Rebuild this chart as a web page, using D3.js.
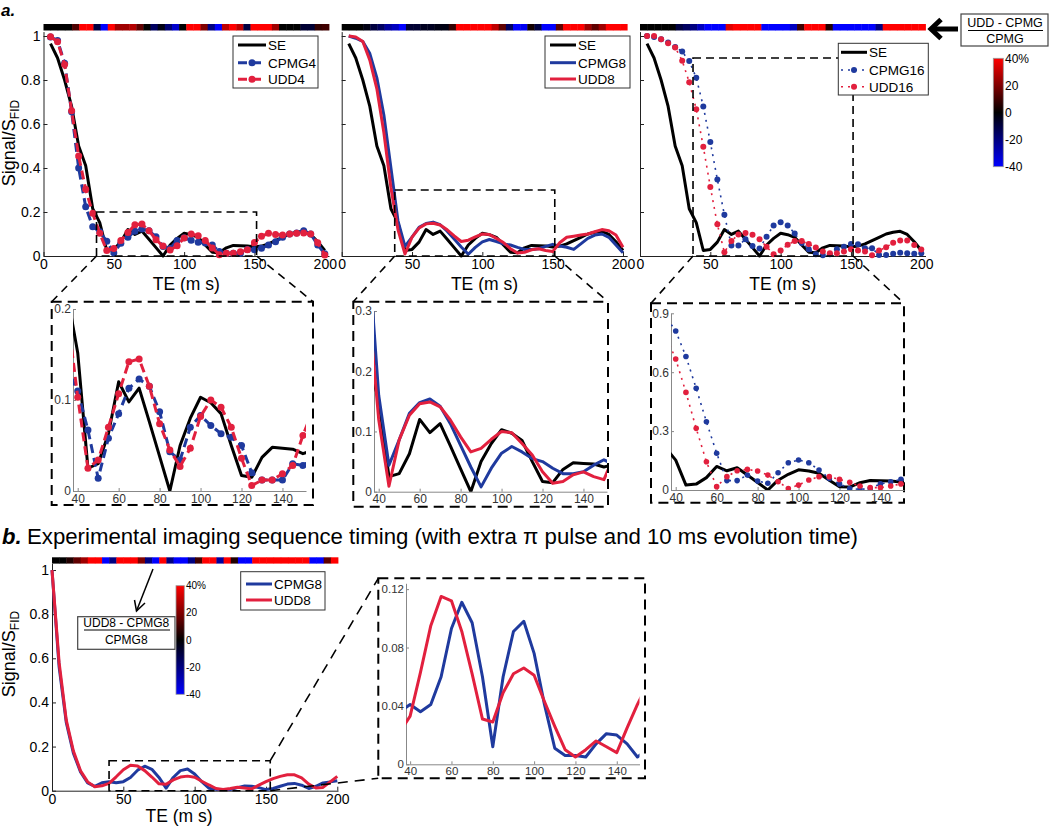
<!DOCTYPE html>
<html><head><meta charset="utf-8">
<script src="https://cdn.jsdelivr.net/npm/d3@7"></script>
<style>
body{margin:0;background:#fff;}
svg{display:block;font-family:"Liberation Sans",Arial,Helvetica,sans-serif;}
</style></head><body>
<svg id="c" width="1050" height="827"></svg>
<script>
// ---------------- DATA ----------------
const TE = [5,10,15,20,25,30,35,40,45,50,55,60,65,70,75,80,85,90,95,100,105,110,115,120,125,130,135,140,145,150,155,160,165,170,175,180,185,190,195,200];
const SE = [0.965,0.9,0.8,0.68,0.5,0.41,0.215,0.152,0.025,0.03,0.063,0.12,0.098,0.113,0.076,0.038,0.0,0.05,0.08,0.103,0.097,0.085,0.05,0.017,0.015,0.037,0.048,0.047,0.046,0.041,0.045,0.055,0.07,0.085,0.1,0.108,0.112,0.098,0.065,0.025];
const CPMG4 = [0.995,0.98,0.876,0.656,0.4,0.224,0.133,0.11,0.067,0.014,0.058,0.085,0.113,0.123,0.115,0.087,0.043,0.034,0.07,0.083,0.072,0.063,0.059,0.05,0.02,0.012,0.012,0.012,0.03,0.028,0.035,0.05,0.065,0.085,0.1,0.105,0.115,0.1,0.05,0.01];
const UDD4 = [0.997,0.974,0.87,0.66,0.455,0.303,0.194,0.103,0.025,0.034,0.07,0.107,0.142,0.145,0.115,0.074,0.045,0.027,0.047,0.082,0.1,0.092,0.07,0.036,0.006,0.012,0.012,0.019,0.028,0.061,0.09,0.103,0.098,0.095,0.1,0.103,0.105,0.1,0.06,0.005];
const CPMG8 = [1.0,0.99,0.975,0.92,0.81,0.64,0.40,0.16,0.044,0.086,0.13,0.148,0.154,0.142,0.113,0.077,0.041,0.008,0.039,0.064,0.075,0.066,0.055,0.05,0.039,0.03,0.03,0.033,0.044,0.053,0.045,0.04,0.03,0.055,0.08,0.095,0.1,0.085,0.05,0.015];
const UDD8 = [1.0,0.995,0.975,0.89,0.76,0.56,0.31,0.12,0.009,0.086,0.127,0.146,0.149,0.141,0.119,0.091,0.066,0.072,0.087,0.1,0.098,0.08,0.061,0.033,0.014,0.017,0.028,0.033,0.025,0.02,0.06,0.085,0.09,0.095,0.1,0.11,0.12,0.115,0.095,0.04];
const CPMG16 = [1.0,0.995,0.985,0.97,0.95,0.929,0.886,0.81,0.68,0.518,0.348,0.187,0.048,0.048,0.076,0.046,0.034,0.088,0.139,0.153,0.139,0.102,0.059,0.031,0.008,0.003,0.008,0.031,0.042,0.054,0.053,0.035,0.035,0.005,0.005,0.01,0.015,0.012,0.01,0.012];
const UDD16 = [1.0,1.0,0.985,0.967,0.948,0.888,0.79,0.667,0.497,0.314,0.144,0.017,0.068,0.098,0.105,0.097,0.076,0.042,0.008,0.025,0.051,0.068,0.068,0.054,0.039,0.02,0.012,0.012,0.02,0.031,0.025,0.02,0.003,0.025,0.04,0.06,0.07,0.07,0.05,0.03];

const TE_B = [0,5,10,15,20,25,30,35,40,45,50,55,60,65,70,75,80,85,90,95,100,105,110,115,120,125,130,135,140,145,150,155,160,165,170,175,180,185,190,195,200];
const CPMG8_B = [1.0,0.56,0.31,0.17,0.085,0.035,0.02,0.036,0.041,0.036,0.041,0.06,0.093,0.111,0.097,0.06,0.012,0.06,0.091,0.098,0.076,0.041,0.011,0.006,0.006,0.005,0.014,0.021,0.02,0.014,0.005,0.01,0.02,0.03,0.033,0.025,0.01,0.02,0.035,0.04,0.045];
const UDD8_B = [1.0,0.58,0.32,0.18,0.09,0.04,0.018,0.022,0.033,0.063,0.095,0.115,0.112,0.091,0.062,0.031,0.029,0.049,0.062,0.066,0.061,0.043,0.026,0.01,0.005,0.01,0.016,0.012,0.008,0.025,0.041,0.055,0.065,0.072,0.072,0.058,0.03,0.012,0.015,0.04,0.065];

// relative difference (UDD-CPMG)/CPMG in %, one cell per TE
const DIFF_4 = [0,0,0,0,12,40,40,-10,-40,40,25,25,28,15,0,-15,-3,-18,-32,0,40,40,20,-20,-40,30,40,30,-10,40,40,40,25,0,0,0,-8,-8,8,10];
const DIFF_8 = [0,0,0,-3,-10,-15,-25,-30,-40,-8,-8,-5,-5,-3,-3,8,40,40,40,40,40,30,15,-15,-40,-38,3,-10,-40,-40,15,40,40,40,25,15,25,40,40,40];
const DIFF_16 = [0,0,0,0,0,-10,-15,-20,-30,-40,-40,-40,35,40,40,40,40,-40,-40,-40,-40,-30,10,40,40,40,5,-40,-40,-40,-40,-40,-40,-20,40,40,40,40,40,40];
const DIFF_B = [0,0,5,15,25,40,40,-40,-20,40,40,40,20,-20,-40,40,-20,-40,-40,-20,10,40,40,-25,40,5,-40,-40,40,40,40,40,40,40,40,40,-40,-40,15,40];

const X_TICKS = [0,50,100,150,200];
const Y_TICKS = [0,0.2,0.4,0.6,0.8,1];
const INSET_X_TICKS = [40,60,80,100,120,140];
const INSET_Y_TICKS_1 = [0,0.1,0.2];
const INSET_Y_TICKS_2 = [0,0.1,0.2,0.3];
const INSET_Y_TICKS_3 = [0,0.3,0.6,0.9];
const INSET_Y_TICKS_B = [0,0.04,0.08,0.12];
const CBAR_TICKS = [40,20,0,-20,-40];
const CBAR_LABELS = ["40%","20","0","-20","-40"];
const LEGEND_1 = ["SE","CPMG4","UDD4"];
const LEGEND_2 = ["SE","CPMG8","UDD8"];
const LEGEND_3 = ["SE","CPMG16","UDD16"];
const LEGEND_B = ["CPMG8","UDD8"];

// ---------------- STYLE ----------------
const BLUE = "#1f3a9e", RED = "#e2203e", BLACK = "#000";
const STYLES = {
  solid: {w:3, dash:null, r:0},
  dash:  {w:3, dash:"9,5", r:3.5},
  dot:   {w:1.6, dash:"2,5", r:3}
};
const diffColor = d3.scaleLinear().domain([-40,0,40]).range(["#0000ff","#000000","#ff0000"]).clamp(true);

const svg = d3.select("#c");
const defs = svg.append("defs");

function styleAxis(g, fs, col, lineCol) {
  g.selectAll("text").attr("font-size", fs).attr("fill", col).attr("font-family", null);
  g.selectAll(".domain").attr("stroke", lineCol).attr("stroke-width", 1);
  g.selectAll(".tick line").attr("stroke", lineCol);
  g.attr("font-family", null);
}

function drawSeries(g, x, y, te, vals, color, styleName, r) {
  const st = STYLES[styleName];
  const pts = te.map((t,i)=>({t, v: vals[i]}));
  const line = d3.line().x(d=>x(d.t)).y(d=>y(d.v));
  g.append("path").datum(pts).attr("d", line).attr("fill","none")
    .attr("stroke", color).attr("stroke-width", st.w)
    .attr("stroke-dasharray", st.dash).attr("stroke-linejoin","round");
  const rr = r !== undefined ? r : st.r;
  if (rr) g.append("g").selectAll("circle").data(pts).join("circle")
    .attr("cx", d=>x(d.t)).attr("cy", d=>y(d.v)).attr("r", rr).attr("fill", color);
}

function drawStrip(x, diff, top, h) {
  const band = d3.scaleBand().domain(d3.range(diff.length)).range(x.range());
  svg.append("g").selectAll("rect").data(diff).join("rect")
    .attr("x",(d,i)=>band(i)).attr("y", top).attr("width", band.bandwidth()+0.4).attr("height", h)
    .attr("fill", d=>diffColor(d));
}

function drawLegend(box, rows, lx, names, colors, styles, fs) {
  const g = svg.append("g");
  g.append("rect").attr("x",box[0]).attr("y",box[1]).attr("width",box[2]-box[0]).attr("height",box[3]-box[1])
    .attr("fill","#fff").attr("stroke","#333").attr("stroke-width",1);
  names.forEach((n,i)=>{
    const st = STYLES[styles[i]];
    g.append("line").attr("x1",lx[0]).attr("x2",lx[1]).attr("y1",rows[i]).attr("y2",rows[i])
      .attr("stroke",colors[i]).attr("stroke-width",st.w).attr("stroke-dasharray",st.dash);
    if (st.r) g.append("circle").attr("cx",(lx[0]+lx[1])/2).attr("cy",rows[i]).attr("r",st.r).attr("fill",colors[i]);
    g.append("text").attr("x",lx[1]+2).attr("y",rows[i]).attr("dy","0.36em").attr("font-size",fs).attr("fill","#000").text(n);
  });
}

function yLabel(cx, cy) {
  const t = svg.append("text").attr("transform",`translate(${cx},${cy}) rotate(-90)`)
    .attr("text-anchor","middle").attr("font-size",18).attr("fill","#000");
  t.append("tspan").text("Signal/S");
  t.append("tspan").attr("font-size",12).attr("dy","0.35em").text("FID");
}
function xLabel(cx, by) {
  svg.append("text").attr("x",cx).attr("y",by).attr("text-anchor","middle").attr("font-size",17.5).text("TE (m s)");
}

// ---------------- TOP PANELS ----------------
const panels = [
  {L:43.5, diff:DIFF_4, cp:CPMG4, ud:UDD4, sty:"dash", legend:LEGEND_1, lbox:[233,36,318,88], lrows:[45,62.7,79.3], lx:[238,266],
   zy:0.2, ibox:[51.7,301.7,313,505], ixr:[73,306], iyr:[491,309], iyd:[0,0.2], iyt:INSET_Y_TICKS_1, ir:3.5, labels:true},
  {L:341.7, diff:DIFF_8, cp:CPMG8, ud:UDD8, sty:"solid", legend:LEGEND_2, lbox:[545,36,630,88], lrows:[45,62.7,79], lx:[550,576],
   zy:0.3, ibox:[353.3,301.7,608,506.7], ixr:[374,607], iyr:[491.7,311], iyd:[0,0.3], iyt:INSET_Y_TICKS_2, ir:0, labels:false},
  {L:640, diff:DIFF_16, cp:CPMG16, ud:UDD16, sty:"dot", legend:LEGEND_3, lbox:[838.3,43.3,928.3,95], lrows:[52.3,70,86.7], lx:[841,867],
   zy:0.9, ibox:[651,303.3,904,502.7], ixr:[671,904], iyr:[490,313.3], iyd:[0,0.9], iyt:INSET_Y_TICKS_3, ir:2.8, labels:false}
];
const ZOOM_X = [37.7, 151.5];

panels.forEach((p, pi)=>{
  const x = d3.scaleLinear().domain([0,203]).range([p.L, p.L+285.5]);
  const y = d3.scaleLinear().domain([0,1.02]).range([256, 31.6]);
  drawStrip(x, p.diff, 24, 6.5);

  const gx = svg.append("g").attr("transform","translate(0,256)")
    .call(d3.axisBottom(x).tickValues(X_TICKS).tickSizeInner(-4).tickSizeOuter(0).tickPadding(3).tickFormat(d=>String(d)));
  styleAxis(gx, 14, "#000", "#222");
  const gy = svg.append("g").attr("transform",`translate(${p.L},0)`)
    .call(d3.axisLeft(y).tickValues(Y_TICKS).tickSizeInner(-4).tickSizeOuter(0).tickPadding(3)
      .tickFormat(d=> p.labels ? String(d) : ""));
  styleAxis(gy, 14, "#000", "#222");

  const g = svg.append("g");
  drawSeries(g, x, y, TE, SE, BLACK, "solid");
  drawSeries(g, x, y, TE, p.cp, BLUE, p.sty);
  drawSeries(g, x, y, TE, p.ud, RED, p.sty);

  // zoom rectangle
  svg.append("rect").attr("x", x(ZOOM_X[0])).attr("y", y(p.zy))
    .attr("width", x(ZOOM_X[1])-x(ZOOM_X[0])).attr("height", y(0)-y(p.zy))
    .attr("fill","none").attr("stroke","#000").attr("stroke-width",1.6).attr("stroke-dasharray","8,5");

  drawLegend(p.lbox, p.lrows, p.lx, p.legend, [BLACK,BLUE,RED], ["solid",p.sty,p.sty], 13.5);
  xLabel((x.range()[0]+x.range()[1])/2, 290);

  // inset
  const b = p.ibox;
  [[x(ZOOM_X[0]), y(0), b[0], b[1]], [x(ZOOM_X[1]), y(0), b[2], b[1]]].forEach(c=>{
    svg.append("line").attr("x1",c[0]).attr("y1",c[1]).attr("x2",c[2]).attr("y2",c[3])
      .attr("stroke","#000").attr("stroke-width",1.6).attr("stroke-dasharray","8,6");
  });
  svg.append("rect").attr("x",b[0]).attr("y",b[1]).attr("width",b[2]-b[0]).attr("height",b[3]-b[1])
    .attr("fill","#fff").attr("stroke","#000").attr("stroke-width",2).attr("stroke-dasharray","10,6");
  const ix = d3.scaleLinear().domain(ZOOM_X).range(p.ixr);
  const iy = d3.scaleLinear().domain(p.iyd).range(p.iyr);
  const cid = "clip"+pi;
  defs.append("clipPath").attr("id",cid).append("rect")
    .attr("x",p.ixr[0]).attr("y",p.iyr[1]).attr("width",p.ixr[1]-p.ixr[0]).attr("height",p.iyr[0]-p.iyr[1]);
  const igx = svg.append("g").attr("transform",`translate(0,${p.iyr[0]})`)
    .call(d3.axisBottom(ix).tickValues(INSET_X_TICKS).tickSizeInner(-3).tickSizeOuter(0).tickPadding(3));
  styleAxis(igx, 12, "#333", "#888");
  const igy = svg.append("g").attr("transform",`translate(${p.ixr[0]},0)`)
    .call(d3.axisLeft(iy).tickValues(p.iyt).tickSizeInner(-3).tickSizeOuter(0).tickPadding(2).tickFormat(d=>String(d)));
  styleAxis(igy, 12, "#333", "#888");
  const ig = svg.append("g").attr("clip-path",`url(#${cid})`);
  drawSeries(ig, ix, iy, TE, SE, BLACK, "solid");
  drawSeries(ig, ix, iy, TE, p.cp, BLUE, p.sty, p.ir);
  drawSeries(ig, ix, iy, TE, p.ud, RED, p.sty, p.ir);
});
yLabel(15, 143);

// "a." label
svg.append("text").attr("x",1).attr("y",16).attr("font-size",17).attr("font-weight","bold").attr("font-style","italic").text("a.");

// top-right annotation: formula box, arrow, colorbar
{
  const g = svg.append("g");
  g.append("rect").attr("x",961).attr("y",14).attr("width",87).attr("height",32).attr("fill","#fff").attr("stroke","#444").attr("stroke-width",1.2);
  g.append("text").attr("x",1005).attr("y",27).attr("text-anchor","middle").attr("font-size",12.5).text("UDD - CPMG");
  g.append("line").attr("x1",968).attr("x2",1043).attr("y1",30.5).attr("y2",30.5).attr("stroke","#000").attr("stroke-width",1);
  g.append("text").attr("x",1005).attr("y",43).attr("text-anchor","middle").attr("font-size",12.5).text("CPMG");
  g.append("line").attr("x1",958).attr("x2",932).attr("y1",29).attr("y2",29).attr("stroke","#000").attr("stroke-width",5);
  g.append("path").attr("d","M941,19.5 L931,29 L941,38.5").attr("fill","none").attr("stroke","#000").attr("stroke-width",5).attr("stroke-linejoin","miter");
}
function colorbar(x0, y0, w, h, fs, lx, gid) {
  const grad = defs.append("linearGradient").attr("id",gid).attr("x1",0).attr("x2",0).attr("y1",0).attr("y2",1);
  CBAR_TICKS.forEach(v=>{
    grad.append("stop").attr("offset", (40-v)/80).attr("stop-color", diffColor(v));
  });
  svg.append("rect").attr("x",x0).attr("y",y0).attr("width",w).attr("height",h).attr("fill",`url(#${gid})`).attr("stroke","#999").attr("stroke-width",0.8);
  const cy = d3.scaleLinear().domain([-40,40]).range([y0+h, y0]);
  svg.append("g").selectAll("text").data(CBAR_TICKS).join("text")
    .attr("x",lx).attr("y",d=>cy(d)).attr("dy","0.35em").attr("font-size",fs).text((d,i)=>CBAR_LABELS[i]);
}
colorbar(993.3, 58.3, 10, 108.4, 12, 1005, "cbarA");

// ---------------- BOTTOM (b) ----------------
svg.append("text").attr("x",2).attr("y",544).attr("font-size",22).attr("font-weight","bold").attr("font-style","italic").text("b.");
svg.append("text").attr("x",27).attr("y",544).attr("font-size",22).attr("textLength",831).attr("lengthAdjust","spacingAndGlyphs")
  .text("Experimental imaging sequence timing (with extra \u03c0 pulse and 10 ms evolution time)");

{
  const x = d3.scaleLinear().domain([0,200.5]).range([52,338]);
  const y = d3.scaleLinear().domain([0,1.03]).range([790.7, 563.4]);
  drawStrip(x, DIFF_B, 557.3, 6.3);
  const gx = svg.append("g").attr("transform","translate(0,790.7)")
    .call(d3.axisBottom(x).tickValues(X_TICKS).tickSizeInner(-4).tickSizeOuter(0).tickPadding(3).tickFormat(d=>String(d)));
  styleAxis(gx, 14, "#000", "#222");
  const gy = svg.append("g").attr("transform","translate(52,0)")
    .call(d3.axisLeft(y).tickValues(Y_TICKS).tickSizeInner(-4).tickSizeOuter(0).tickPadding(3).tickFormat(d=>String(d)));
  styleAxis(gy, 14, "#000", "#222");
  const g = svg.append("g");
  drawSeries(g, x, y, TE_B, CPMG8_B, BLUE, "solid");
  drawSeries(g, x, y, TE_B, UDD8_B, RED, "solid");
  yLabel(15, 654);
  xLabel(179, 822);
  drawLegend([240.7,571.7,325,610], [584,600], [246,272], LEGEND_B, [BLUE,RED], ["solid","solid"], 13.5);

  // formula box, arrow, colorbar
  svg.append("rect").attr("x",77.7).attr("y",616.7).attr("width",97.3).attr("height",32.6).attr("fill","#fff").attr("stroke","#444").attr("stroke-width",1.2);
  svg.append("text").attr("x",126.3).attr("y",627).attr("text-anchor","middle").attr("font-size",12).attr("textLength",86).attr("lengthAdjust","spacingAndGlyphs").text("UDD8 - CPMG8");
  svg.append("line").attr("x1",84).attr("x2",170).attr("y1",630).attr("y2",630).attr("stroke","#000").attr("stroke-width",1);
  svg.append("text").attr("x",126.3).attr("y",644).attr("text-anchor","middle").attr("font-size",12).text("CPMG8");
  svg.append("line").attr("x1",153).attr("y1",569).attr("x2",136.5).attr("y2",611).attr("stroke","#000").attr("stroke-width",1.5);
  svg.append("path").attr("d","M134.5,600 L136.5,611 L145,603").attr("fill","none").attr("stroke","#000").attr("stroke-width",1.5);
  colorbar(176, 585.7, 8.3, 108.6, 10, 186, "cbarB");

  // zoom rect
  const zx = [40,153], zy = 0.136;
  svg.append("rect").attr("x",x(zx[0])).attr("y",y(zy)).attr("width",x(zx[1])-x(zx[0])).attr("height",y(0)-y(zy))
    .attr("fill","none").attr("stroke","#000").attr("stroke-width",1.6).attr("stroke-dasharray","8,5");
  const b = [378.3,578.3,645,778.3];
  [[x(zx[1]), y(zy), b[0], b[1]], [x(zx[1]), y(0), b[0], b[3]]].forEach(c=>{
    svg.append("line").attr("x1",c[0]).attr("y1",c[1]).attr("x2",c[2]).attr("y2",c[3])
      .attr("stroke","#000").attr("stroke-width",1.6).attr("stroke-dasharray","10,7");
  });
  svg.append("rect").attr("x",b[0]).attr("y",b[1]).attr("width",b[2]-b[0]).attr("height",b[3]-b[1])
    .attr("fill","#fff").attr("stroke","#000").attr("stroke-width",2).attr("stroke-dasharray","10,6");
  const ix = d3.scaleLinear().domain([38,151]).range([406,639.5]);
  const iy = d3.scaleLinear().domain([0,0.124]).range([764.3,583.3]);
  defs.append("clipPath").attr("id","clipB").append("rect").attr("x",406).attr("y",583.3).attr("width",233.5).attr("height",181);
  const igx = svg.append("g").attr("transform","translate(0,764.3)")
    .call(d3.axisBottom(ix).tickValues(INSET_X_TICKS).tickSizeInner(-3).tickSizeOuter(0).tickPadding(3));
  styleAxis(igx, 11.5, "#333", "#888");
  const igy = svg.append("g").attr("transform","translate(406,0)")
    .call(d3.axisLeft(iy).tickValues(INSET_Y_TICKS_B).tickSizeInner(-3).tickSizeOuter(0).tickPadding(2).tickFormat(d=>String(d)));
  styleAxis(igy, 11.5, "#333", "#888");
  const ig = svg.append("g").attr("clip-path","url(#clipB)");
  drawSeries(ig, ix, iy, TE_B, CPMG8_B, BLUE, "solid");
  drawSeries(ig, ix, iy, TE_B, UDD8_B, RED, "solid");
}
</script></body></html>
